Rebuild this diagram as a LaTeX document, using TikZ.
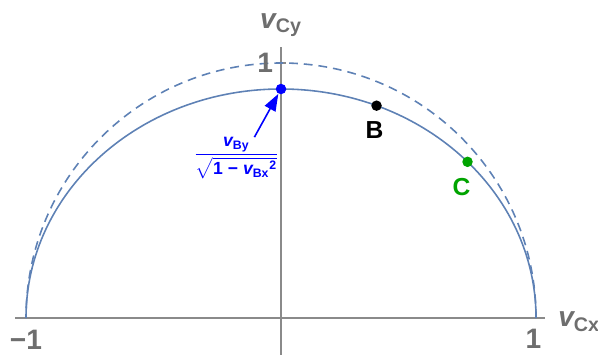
\documentclass[tikz,border=0pt]{standalone}
\usepackage{fontspec}
\setmainfont{Liberation Sans}
\usepackage{amsmath}
\usetikzlibrary{arrows.meta, positioning}
\definecolor{curveblue}{HTML}{5E81B5}
\definecolor{axisgray}{HTML}{8A8A8A}
\definecolor{labelgray}{HTML}{6E6E6E}
\definecolor{ptgreen}{HTML}{00A400}

\begin{document}
\begin{tikzpicture}[
    x=5.1cm, y=5.1cm,
    every node/.style={inner sep=0pt},
    axis/.style   ={line width=0.7pt, draw=axisgray},
    circ/.style   ={dashed, dash pattern=on 5pt off 3.4pt,
                    line width=0.9pt, draw=curveblue},
    ell/.style    ={line width=0.9pt, draw=curveblue},
    dot/.style    ={circle, minimum size=2.1mm, fill=#1},
    ticklbl/.style={font=\fontsize{16}{16}\selectfont\bfseries, text=labelgray},
    axlbl/.style  ={font=\fontsize{16}{16}\selectfont\bfseries, text=labelgray},
    ptlbl/.style  ={font=\fontsize{14}{14}\selectfont\bfseries, text=#1},
    arr/.style    ={-{Triangle[length=3.4mm,width=2.4mm]},
                    line width=0.9pt, draw=blue},
  ]

  %% --- geometry ---------------------------------------------------------
  \def\yb{0.898}  % semi-axis of the solid curve
  \useasboundingbox (-1.102,-0.145) rectangle (1.243,1.247);

  %% axes
  \coordinate (xl) at (-1.043,0);
  \coordinate (xr) at (1.035,0);
  \coordinate (ylo) at (0,-0.145);
  \coordinate (yhi) at (0,1.063);
  \draw[axis] (xl) -- (xr);
  \draw[axis] (ylo) -- (yhi);
  \draw[axis] (0,1) -- (0.02,1);

  %% unit circle (dashed) and the solid half-ellipse
  \draw[circ] (1,0) arc[start angle=0, end angle=180, radius=1];
  \draw[ell]  (1,0) arc[start angle=0, end angle=180, x radius=1, y radius=\yb];

  %% tick and axis labels
  \node[ticklbl, anchor=base east] (t1y) at (-0.03,0.961) {1};
  \node[ticklbl, anchor=base] (tm1) at (-1,-0.122) {−1};
  \node[ticklbl, anchor=base] (t1x) at (0.99,-0.118) {1};
  \node[axlbl, anchor=base] (vcy) at (0,1.137) {$\textit{v}_{\text{Cy}}$};
  \node[axlbl, anchor=base west] (vcx) at (1.086,-0.035) {$\textit{v}_{\text{Cx}}$};

  %% points on the curve
  \node[dot=blue]    (pBy) at (0,\yb) {};
  \node[dot=black]   (pB)  at (68:1 and \yb) {};
  \node[dot=ptgreen] (pC)  at (43:1 and \yb) {};
  \node[ptlbl=black, anchor=base]   (lB) at (0.367,0.702) {B};
  \node[ptlbl=ptgreen, anchor=base] (lC) at (0.708,0.482) {C};

  %% fraction label and its arrow
  \node[text=blue, font=\fontsize{10}{12}\selectfont\bfseries] (frac) at (-0.175,0.627)
        {$\dfrac{\textit{v}_{\text{By}}}
                {\sqrt{\text{1}\;\text{−}\;{\textit{v}_{\text{Bx}}}^{\text{2}}}}$};
  \draw[arr] ([xshift=0.36cm]frac.north) -- (pBy);

\end{tikzpicture}
\end{document}
